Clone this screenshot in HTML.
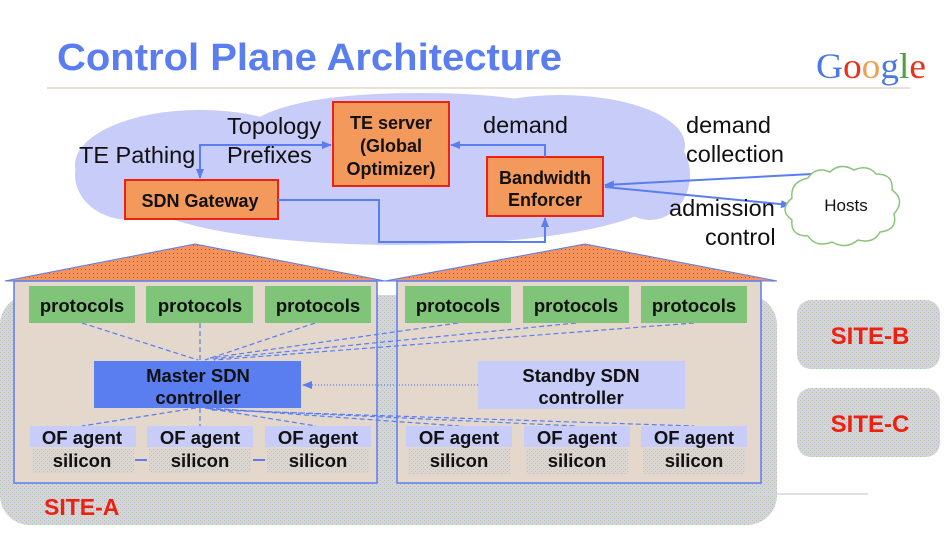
<!DOCTYPE html>
<html><head><meta charset="utf-8"><style>
html,body{margin:0;padding:0;background:#fff;}
svg{display:block;font-family:"Liberation Sans",Arial,sans-serif;}
.b{font-weight:bold;}
</style></head><body>
<svg width="949" height="534" viewBox="0 0 949 534" xmlns="http://www.w3.org/2000/svg">
<defs>
<pattern id="dots" width="4" height="4" patternUnits="userSpaceOnUse">
<rect width="4" height="4" fill="#d7d3d7"/><rect x="0" y="0" width="1" height="1" fill="#9ccf9a"/><rect x="2" y="2" width="1" height="1" fill="#b8b8e0"/>
</pattern>
<pattern id="roof" width="4" height="4" patternUnits="userSpaceOnUse">
<rect width="4" height="4" fill="#f4945c"/><rect x="1" y="1" width="1" height="1" fill="#e0402a"/>
</pattern>
<pattern id="sil" width="4" height="4" patternUnits="userSpaceOnUse">
<rect width="4" height="4" fill="#dcd6d0"/><rect x="1" y="1" width="1" height="1" fill="#9ccf9a"/><rect x="3" y="3" width="1" height="1" fill="#b8b8e0"/>
</pattern>
<marker id="ar" markerWidth="10" markerHeight="8" refX="9" refY="4" orient="auto" markerUnits="userSpaceOnUse"><path d="M0,0 L10,4 L0,8 Z" fill="#5a7df0"/></marker>
</defs>
<text x="57" y="70" font-size="38" class="b" fill="#5a7df0" textLength="505" lengthAdjust="spacingAndGlyphs">Control Plane Architecture</text>
<text x="816" y="78" font-size="36" font-family="Liberation Serif,serif" textLength="110" lengthAdjust="spacingAndGlyphs"><tspan fill="#4a78e8">G</tspan><tspan fill="#e8301c">o</tspan><tspan fill="#f0a050">o</tspan><tspan fill="#4a78e8">g</tspan><tspan fill="#50a040">l</tspan><tspan fill="#e8301c">e</tspan></text>
<line x1="47" y1="88" x2="910" y2="88" stroke="#e4d6c8" stroke-width="1.5"/>
<!-- cloud -->
<g fill="#c8ccf8">
<ellipse cx="200" cy="165" rx="125" ry="55"/>
<ellipse cx="380" cy="140" rx="140" ry="45"/>
<ellipse cx="560" cy="145" rx="125" ry="50"/>
<ellipse cx="400" cy="195" rx="260" ry="50"/>
<ellipse cx="130" cy="175" rx="55" ry="45"/>
<ellipse cx="650" cy="175" rx="40" ry="45"/>
<ellipse cx="420" cy="108" rx="120" ry="15"/>
</g>
<!-- site A bg -->
<rect x="0" y="295" width="777" height="230" rx="30" fill="url(#dots)"/>
<line x1="745" y1="494" x2="868" y2="494" stroke="#d8d4e0" stroke-width="1.5"/>
<!-- houses -->
<polygon points="5,281 195,244 385,281" fill="url(#roof)" stroke="#5a7df0" stroke-width="1"/>
<polygon points="385,281 585,244 777,281" fill="url(#roof)" stroke="#5a7df0" stroke-width="1"/>
<rect x="14" y="281" width="363" height="202" fill="#e4d8cc" stroke="#5a7df0" stroke-width="1.5"/>
<rect x="397" y="281" width="364" height="202" fill="#e4d8cc" stroke="#5a7df0" stroke-width="1.5"/>
<!-- dashed connectors -->
<g stroke="#5a7df0" stroke-width="1.2" stroke-dasharray="5,3" fill="none">
<line x1="82" y1="323" x2="198" y2="360"/><line x1="200" y1="323" x2="200" y2="360"/><line x1="315" y1="323" x2="205" y2="360"/>
<line x1="458" y1="323" x2="210" y2="358"/><line x1="576" y1="323" x2="212" y2="359"/><line x1="694" y1="323" x2="214" y2="360"/>
<line x1="196" y1="408" x2="82" y2="426"/><line x1="200" y1="408" x2="200" y2="426"/><line x1="205" y1="408" x2="316" y2="426"/>
<line x1="208" y1="408" x2="459" y2="426"/><line x1="210" y1="409" x2="577" y2="426"/><line x1="212" y1="410" x2="694" y2="426"/>
</g>
<line x1="478" y1="385" x2="303" y2="385" stroke="#5a7df0" stroke-width="1.2" stroke-dasharray="1,2" marker-end="url(#ar)"/>
<!-- protocols -->
<g fill="#80c47a">
<rect x="29" y="286" width="106" height="37"/><rect x="146" y="286" width="107" height="37"/><rect x="265" y="286" width="106" height="37"/>
<rect x="405" y="286" width="106" height="37"/><rect x="523" y="286" width="106" height="37"/><rect x="641" y="286" width="106" height="37"/>
</g>
<g font-size="18.5" class="b" fill="#111" text-anchor="middle">
<text x="82" y="312">protocols</text><text x="200" y="312">protocols</text><text x="318" y="312">protocols</text>
<text x="458" y="312">protocols</text><text x="576" y="312">protocols</text><text x="694" y="312">protocols</text>
</g>
<rect x="94" y="361" width="207" height="47" fill="#5a7df0"/>
<rect x="478" y="361" width="207" height="48" fill="#c8ccf8"/>
<g font-size="18.5" class="b" fill="#111" text-anchor="middle">
<text x="198" y="382">Master SDN</text><text x="198" y="404">controller</text>
<text x="581" y="382">Standby SDN</text><text x="581" y="404">controller</text>
</g>
<!-- OF agents / silicon -->
<g fill="#c8ccf8">
<rect x="30" y="426" width="106" height="21"/><rect x="147" y="426" width="106" height="21"/><rect x="265" y="426" width="106" height="21"/>
<rect x="406" y="426" width="106" height="21"/><rect x="524" y="426" width="106" height="21"/><rect x="641" y="426" width="106" height="21"/>
</g>
<g fill="url(#sil)">
<rect x="32" y="449" width="102" height="24"/><rect x="149" y="449" width="102" height="24"/><rect x="267" y="449" width="102" height="24"/>
<rect x="408" y="448" width="102" height="26"/><rect x="526" y="448" width="102" height="26"/><rect x="643" y="448" width="102" height="26"/>
</g>
<g stroke="#5a7df0" stroke-width="2"><line x1="135" y1="460" x2="147" y2="460"/><line x1="253" y1="460" x2="265" y2="460"/></g>
<g font-size="18.5" class="b" fill="#111" text-anchor="middle">
<text x="82" y="444">OF agent</text><text x="200" y="444">OF agent</text><text x="318" y="444">OF agent</text>
<text x="459" y="444">OF agent</text><text x="577" y="444">OF agent</text><text x="694" y="444">OF agent</text>
<text x="82" y="467">silicon</text><text x="200" y="467">silicon</text><text x="318" y="467">silicon</text>
<text x="459" y="467">silicon</text><text x="577" y="467">silicon</text><text x="694" y="467">silicon</text>
</g>
<text x="44" y="515" font-size="23" class="b" fill="#f02010">SITE-A</text>
<rect x="797" y="300" width="143" height="69" rx="14" fill="url(#dots)"/>
<rect x="797" y="388" width="143" height="69" rx="14" fill="url(#dots)"/>
<text x="870" y="344" font-size="24" class="b" fill="#f02010" text-anchor="middle">SITE-B</text>
<text x="870" y="432" font-size="24" class="b" fill="#f02010" text-anchor="middle">SITE-C</text>
<!-- top boxes -->
<g fill="#f4995c" stroke="#f02010" stroke-width="2">
<rect x="333" y="102" width="116" height="84"/>
<rect x="125" y="180" width="153" height="39"/>
<rect x="487" y="157" width="116" height="59"/>
</g>
<g font-size="18" class="b" fill="#111" text-anchor="middle">
<text x="391" y="129">TE server</text><text x="391" y="152">(Global</text><text x="391" y="175">Optimizer)</text>
<text x="200" y="207">SDN Gateway</text>
<text x="545" y="184">Bandwidth</text><text x="545" y="206">Enforcer</text>
</g>
<g stroke="#5a7df0" stroke-width="2" fill="none">
<polyline points="330,145 200,145 200,178" marker-end="url(#ar)"/>
<line x1="210" y1="145" x2="331" y2="145" marker-end="url(#ar)"/>
<polyline points="545,157 545,145 451,145" marker-end="url(#ar)"/>
<polyline points="278,200 379,200 379,242 545,242 545,218" marker-end="url(#ar)"/>
<line x1="850" y1="172" x2="605" y2="185" marker-end="url(#ar)"/>
<line x1="605" y1="187" x2="790" y2="205" marker-end="url(#ar)"/>
</g>
<g font-size="23.5" fill="#111">
<text x="227" y="134">Topology</text><text x="227" y="163">Prefixes</text>
<text x="79" y="163">TE Pathing</text><text x="483" y="133">demand</text>
<text x="686" y="133">demand</text><text x="686" y="162">collection</text>
<text x="669" y="216">admission</text><text x="705" y="245">control</text>
</g>
<!-- hosts cloud -->
<g fill="#fff" stroke="#8cc47c" stroke-width="1.5">
<path d="M808,178 q8,-12 22,-6 q10,-10 24,-2 q14,-6 22,4 q18,0 16,16 q14,10 2,24 q4,16 -14,18 q-6,12 -22,8 q-12,10 -26,2 q-16,6 -24,-6 q-18,0 -16,-16 q-14,-10 0,-22 q-2,-16 16,-20 z"/>
</g>
<text x="846" y="211" font-size="17" fill="#111" text-anchor="middle">Hosts</text>
</svg>
</body></html>
